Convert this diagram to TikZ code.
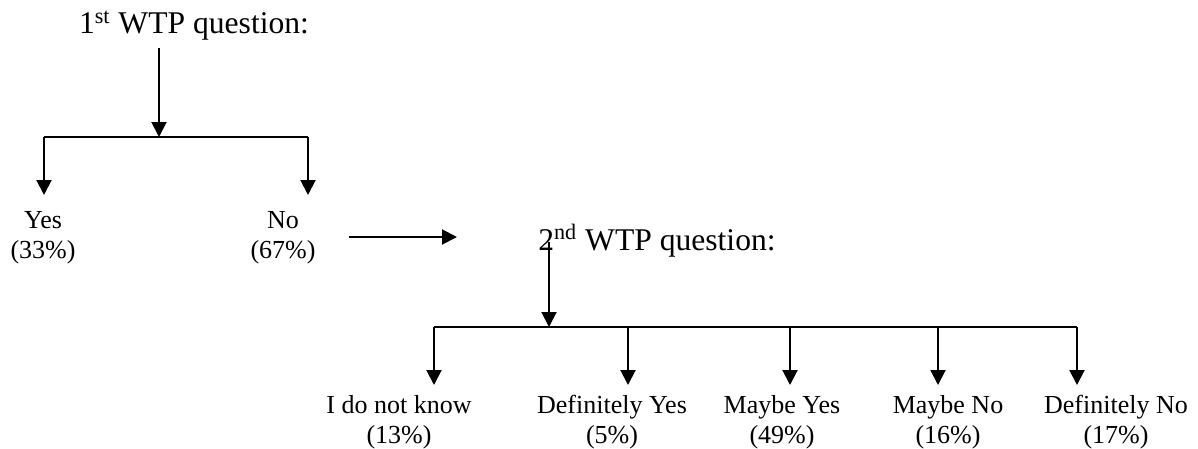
\documentclass[tikz,border=0pt]{standalone}
\usepackage{fontspec}
\setmainfont{Liberation Serif}
\usetikzlibrary{arrows.meta,calc}

\begin{document}
\begin{tikzpicture}[x=0.5pt,y=-0.5pt,line width=1pt,>={Triangle[length=7.5pt,width=7.5pt]}]
\tikzset{title/.style={font=\fontsize{15.8}{19}\selectfont,inner sep=0pt,anchor=base},
  answer/.style={font=\fontsize{13}{15}\selectfont,align=center,inner sep=0pt,anchor=north}}
\useasboundingbox (0,0) rectangle (1198,449);

\node[title] (Q1) at (194,34) {1\textsuperscript{st} WTP question:};
\coordinate (Q1s) at (159,48);
\coordinate (J1) at (159,137);
\coordinate (L1) at (44,137);
\coordinate (R1) at (308,137);
\coordinate (L1t) at (44,195);
\coordinate (R1t) at (308,195);

\node[answer] (Yes) at (43,210) {Yes\\(33\%)};
\node[answer] (No) at (283,210) {No\\(67\%)};

\draw[->] (Q1s) -- (J1);
\draw (L1) -- (R1);
\draw[->] (L1) -- (L1t);
\draw[->] (R1) -- (R1t);

\coordinate (Ns) at (349,237);
\coordinate (Ne) at (457,237);
\draw[->] (Ns) -- (Ne);

\node[title] (Q2) at (657,250) {2\textsuperscript{nd} WTP question:};
\coordinate (Q2s) at (549,242);
\coordinate (J2) at (549,327);
\coordinate (L2) at (434,327);
\coordinate (R2) at (1077,327);
\draw[->] (Q2s) -- (J2);
\draw (L2) -- (R2);

\foreach \ax/\lx/\name/\txt in {434/399/dk/I do not know\\(13\%),
    628/612/dy/Definitely Yes\\(5\%),
    790/782/my/Maybe Yes\\(49\%),
    938/948/mn/Maybe No\\(16\%),
    1077/1116/dn/Definitely No\\(17\%)}{
  \coordinate (\name t) at (\ax,385);
  \draw[->] (\name t |- L2) -- (\name t);
  \node[answer] (\name) at (\lx,394) {\txt};
}

\end{tikzpicture}
\end{document}
